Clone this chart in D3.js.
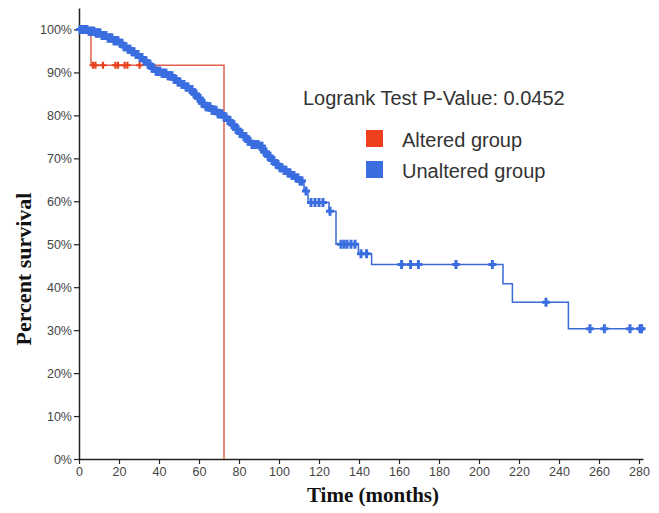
<!DOCTYPE html>
<html><head><meta charset="utf-8">
<script src="https://cdn.jsdelivr.net/npm/d3@7"></script>
<style>body{margin:0;background:#fff}svg{display:block}</style>
</head><body><svg id="c" width="659" height="513"></svg>
<script>
// ---- data ----
const xTicks = [0,20,40,60,80,100,120,140,160,180,200,220,240,260,280];
const yTicks = [0,10,20,30,40,50,60,70,80,90,100];
// Altered group (KM events: time, survival %)
const alteredEventTimes = [0, 6, 72.5];
const alteredSurvival   = [100, 91.67, 0];
const alteredCensor     = [7, 8.2, 12, 18.2, 19.5, 22.8, 24.2, 30.3];
// Unaltered group
const unalteredEventTimes = [0,4.5,8,11,14,17,20,22,24,26,28,30,32,34,36,38,41,44,47,49,51,53,55,57,59,61,63,66,69,72,74,76,78,80,82,84,86,90,92,94,96,98,100,102,104,106,108,110,112.5,114.5,125,128.5,139.7,146.3,212,216.7,244.7];
const unalteredSurvival   = [100,99.6,99.2,98.6,98.0,97.4,96.8,96.0,95.4,94.8,94.2,93.5,92.7,91.9,91.0,90.3,89.8,89.2,88.4,87.8,87.2,86.6,86.0,85.0,84.0,82.8,82.0,81.2,80.4,79.6,78.8,77.8,76.8,75.8,75.0,74.0,73.2,72.8,71.5,70.5,69.5,68.6,67.8,67.2,66.6,66.0,65.4,64.7,62.4,59.7,57.7,50.0,47.8,45.3,40.8,36.5,30.3];
const unalteredCensor = [0.5,1,1.5,2,2.5,3,3.5,4,5,5.5,6,6.5,7,7.5,8.5,9,9.5,10,10.5,11.5,12,12.5,13,13.5,14.5,15,15.5,16,16.5,17.5,18,18.5,19,19.5,20.5,21,21.5,22.5,23,23.5,24.5,25,25.5,26.5,27,27.5,28.5,29,29.5,30.5,31,31.5,32.5,33,33.5,34.5,35,35.5,36.5,37,37.5,38.5,39,39.5,40,40.5,41.5,42,42.5,43,43.5,44.5,45,45.5,46,46.5,47.5,48,48.5,49.5,50,50.5,51.5,52,52.5,53.5,54,54.5,55.5,56,56.5,57.5,58,58.5,59.5,60,60.5,61.5,62,62.5,63.5,64,64.5,65,65.5,66.5,67,67.5,68,68.5,69.5,70,70.5,71,71.5,72.5,73,73.5,74.5,75,75.5,76.5,77,77.5,78.5,79,79.5,80.5,81,81.5,82.5,83,83.5,84.5,85,85.5,86.5,87,87.5,88,88.5,89,89.5,90.5,91,91.5,92.5,93,93.5,94.5,95,95.5,96.5,97,97.5,98.5,99,99.5,100.5,101,101.5,102.5,103,103.5,104.5,105,105.5,106.5,107,107.5,108.5,109,109.5,110.5,111,111.5,113.5,116,118,120,122,125.5,131,132.5,134,136,138,141,143.8,161.3,165.8,169.7,188.5,206.7,233.5,255.5,262.7,275.5,280.5,281.3];
const endTime = 282;
const pValueText = "Logrank Test P-Value: 0.0452";
const legendLabels = ["Altered group","Unaltered group"];
const legendColors = ["#ee3f1f","#3a6ee0"];

// ---- scales ----
const svg = d3.select("#c");
const x = d3.scaleLinear().domain([0, 282]).range([79, 643]);
const y = d3.scaleLinear().domain([0, 105]).range([459, 8]);

function stepPts(times, surv, end){
  const pts = [];
  for (let i=0;i<times.length;i++){
    if (i>0) pts.push([times[i], surv[i-1]]);
    pts.push([times[i], surv[i]]);
  }
  if (end !== undefined) pts.push([end, surv[surv.length-1]]);
  return pts;
}
function survAt(times, surv, t){
  let s = surv[0];
  for (let i=0;i<times.length;i++) if (times[i] <= t) s = surv[i];
  return s;
}
const line = d3.line().x(d=>x(d[0])).y(d=>y(d[1]));
const cross = "M-4,0H4M0,-4.5V4.5";

// axes
const gy = svg.append("g").attr("transform","translate(79,0)")
  .call(d3.axisLeft(y).tickValues(yTicks).tickFormat(d=>d+"%").tickSize(5).tickPadding(2).tickSizeOuter(0));
const gx = svg.append("g").attr("transform","translate(0,459)")
  .call(d3.axisBottom(x).tickValues(xTicks).tickSize(5).tickPadding(3).tickSizeOuter(0));
[gy,gx].forEach(g=>{
  g.select(".domain").attr("stroke","#222").attr("stroke-width",1.5);
  g.selectAll(".tick line").attr("stroke","#222").attr("stroke-width",1.2);
  g.selectAll(".tick text").attr("font-family","Liberation Sans, Arial, sans-serif").attr("font-size",12.5).attr("fill","#444");
});

// altered curve
svg.append("path").datum(stepPts(alteredEventTimes, alteredSurvival))
  .attr("d", line).attr("fill","none").attr("stroke","#e2604e").attr("stroke-width",1.5);
svg.append("g").selectAll("path").data(alteredCensor).join("path")
  .attr("transform", d=>`translate(${x(d)},${y(survAt(alteredEventTimes, alteredSurvival, d))})`)
  .attr("d", "M-3.5,0H3.5M0,-3.5V3.5").attr("stroke","#e8401c").attr("stroke-width",2.2).attr("fill","none");

// unaltered curve
svg.append("path").datum(stepPts(unalteredEventTimes, unalteredSurvival, endTime))
  .attr("d", line).attr("fill","none").attr("stroke","#3a6ad6").attr("stroke-width",1.5);
svg.append("g").selectAll("path").data(unalteredCensor).join("path")
  .attr("transform", d=>`translate(${x(d)},${y(survAt(unalteredEventTimes, unalteredSurvival, d))})`)
  .attr("d", cross).attr("stroke","#3a6ee0").attr("stroke-width",3).attr("fill","none");

// axis titles
svg.append("text").attr("x",373).attr("y",502).attr("text-anchor","middle")
  .attr("font-family","Liberation Serif, Times New Roman, serif").attr("font-weight","bold").attr("font-size",21)
  .attr("fill","#111").text("Time (months)");
svg.append("text").attr("transform","translate(31,269) rotate(-90)").attr("text-anchor","middle")
  .attr("font-family","Liberation Serif, Times New Roman, serif").attr("font-weight","bold").attr("font-size",22)
  .attr("fill","#111").text("Percent survival");

// p-value and legend
svg.append("text").attr("x",303).attr("y",105).attr("font-family","Liberation Sans, Arial, sans-serif")
  .attr("font-size",20).attr("fill","#333").text(pValueText);
const lg = svg.append("g");
legendLabels.forEach((lab,i)=>{
  lg.append("rect").attr("x",366).attr("y",130+i*31).attr("width",17).attr("height",17).attr("fill",legendColors[i]);
  lg.append("text").attr("x",402).attr("y",147+i*31).attr("font-family","Liberation Sans, Arial, sans-serif")
    .attr("font-size",20).attr("fill","#333").text(lab);
});
</script></body></html>
